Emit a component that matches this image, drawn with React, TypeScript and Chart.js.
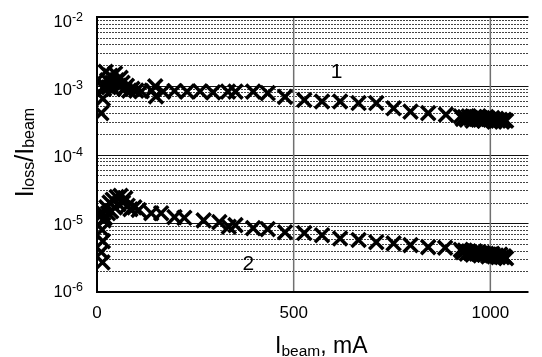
import React, { useEffect, useRef } from "react";
import { Chart, registerables } from "chart.js";

Chart.register(...registerables);

// ---- data ----
const series1X = [
  11, 15, 18, 20, 22, 26, 30, 34, 38, 42, 46, 50, 55, 60, 65, 70, 76, 82, 90, 100,
  113, 139, 148, 150, 168, 197, 229, 262, 295, 333, 352, 397, 434, 478, 527, 572,
  618, 665, 710, 754, 797, 842, 887,
  925, 930, 935, 940, 945, 950, 955, 960, 965, 970, 975, 980, 985, 990, 995, 1000,
  1005, 1010, 1015, 1020, 1025, 1030, 1035, 1040,
];
const series1Y = [
  4.0e-4, 6.5e-4, 9.0e-4, 1.0e-3, 1.6e-3, 1.2e-3, 9.5e-4, 1.4e-3, 1.1e-3, 9.0e-4,
  1.5e-3, 1.2e-3, 1.0e-3, 1.3e-3, 1.1e-3, 9.0e-4, 1.0e-3, 8.5e-4, 9.0e-4, 8.5e-4,
  8.3e-4, 8.5e-4, 9.8e-4, 7.0e-4, 8.2e-4, 8.4e-4, 8.2e-4, 8.3e-4, 8.0e-4, 8.2e-4,
  8.2e-4, 8.2e-4, 7.8e-4, 6.9e-4, 6.2e-4, 5.9e-4, 5.9e-4, 5.6e-4, 5.6e-4, 4.7e-4,
  4.2e-4, 4.0e-4, 3.8e-4,
  3.6e-4, 3.3e-4, 3.5e-4, 3.2e-4, 3.6e-4, 3.4e-4, 3.1e-4, 3.5e-4, 3.3e-4, 3.6e-4,
  3.2e-4, 3.4e-4, 3.1e-4, 3.5e-4, 3.3e-4, 3.2e-4, 3.4e-4, 3.0e-4, 3.3e-4, 3.1e-4,
  3.2e-4, 3.0e-4, 3.2e-4, 3.1e-4,
];
const series2X = [
  14, 11, 15, 13, 17, 16, 20, 24, 28, 32, 36, 40, 45, 50, 55, 60, 66, 72, 78, 85, 95,
  106, 138, 163, 197, 222, 271, 311, 335, 352, 397, 434, 478, 527, 572, 618, 665,
  710, 754, 797, 842, 885,
  925, 930, 935, 940, 945, 950, 955, 960, 965, 970, 975, 980, 985, 990, 995, 1000,
  1005, 1010, 1015, 1020, 1025, 1030, 1035, 1040,
];
const series2Y = [
  2.7e-6, 3.8e-6, 5.5e-6, 8.0e-6, 1.1e-5, 1.4e-5, 1.2e-5, 1.7e-5, 1.4e-5, 2.0e-5,
  1.5e-5, 2.2e-5, 1.7e-5, 2.4e-5, 1.9e-5, 2.5e-5, 2.0e-5, 2.3e-5, 1.8e-5, 1.6e-5,
  1.7e-5, 1.56e-5, 1.4e-5, 1.4e-5, 1.23e-5, 1.2e-5, 1.1e-5, 1.04e-5, 8.9e-6,
  9.4e-6, 8.5e-6, 8.2e-6, 7.4e-6, 7.2e-6, 6.7e-6, 6.0e-6, 5.7e-6, 5.3e-6, 5.1e-6,
  4.8e-6, 4.5e-6, 4.4e-6,
  4.1e-6, 3.8e-6, 4.0e-6, 3.6e-6, 3.9e-6, 3.7e-6, 3.5e-6, 3.9e-6, 3.6e-6, 3.8e-6,
  3.4e-6, 3.7e-6, 3.5e-6, 3.6e-6, 3.3e-6, 3.5e-6, 3.6e-6, 3.3e-6, 3.4e-6, 3.2e-6,
  3.5e-6, 3.2e-6, 3.3e-6, 3.1e-6,
];

const xTickValues = [0, 500, 1000];
const yTickExponents = [-2, -3, -4, -5, -6];
const xMin = 0;
const xMax = 1097;
const yMin = 1e-6;
const yMax = 1e-2;

const seriesLabels = [
  { text: "1", x: 609, y: 1.58e-3 },
  { text: "2", x: 385, y: 2.55e-6 },
];

const xTitle = [
  { t: "I", sub: false },
  { t: "beam", sub: true },
  { t: ", mA", sub: false },
];
const yTitle = [
  { t: "I", sub: false },
  { t: "loss", sub: true },
  { t: "/I", sub: false },
  { t: "beam", sub: true },
];

const FONT = "'Liberation Sans', Arial, sans-serif";

function drawRich(ctx: CanvasRenderingContext2D, segs: { t: string; sub: boolean }[], cx: number, base: number, mainPx: number, subPx: number, subDrop: number) {
  const widths = segs.map((s) => {
    ctx.font = `${s.sub ? subPx : mainPx}px ${FONT}`;
    return ctx.measureText(s.t).width;
  });
  const total = widths.reduce((a, b) => a + b, 0);
  let x = cx - total / 2;
  ctx.textAlign = "left";
  ctx.textBaseline = "alphabetic";
  segs.forEach((s, i) => {
    ctx.font = `${s.sub ? subPx : mainPx}px ${FONT}`;
    ctx.fillText(s.t, x, base + (s.sub ? subDrop : 0));
    x += widths[i];
  });
}

const decorPlugin = {
  id: "decor",
  beforeDatasetsDraw(chart: any) {
    const { ctx, chartArea: a, scales } = chart;
    const x = scales.x;
    const y = scales.y;
    ctx.save();
    ctx.fillStyle = "#fff";
    ctx.fillRect(a.left, a.top, a.right - a.left, a.bottom - a.top);
    // minor dotted grid
    ctx.strokeStyle = "#444";
    ctx.lineWidth = 1;
    ctx.setLineDash([2, 1]);
    for (let e = -6; e < -2; e++) {
      for (let m = 2; m <= 9; m++) {
        const py = Math.round(y.getPixelForValue(m * Math.pow(10, e))) + 0.5;
        ctx.beginPath();
        ctx.moveTo(a.left, py);
        ctx.lineTo(a.right, py);
        ctx.stroke();
      }
    }
    ctx.setLineDash([]);
    // major decade lines
    ctx.strokeStyle = "#111";
    for (let e = -5; e <= -3; e++) {
      const py = Math.round(y.getPixelForValue(Math.pow(10, e))) + 0.5;
      ctx.beginPath();
      ctx.moveTo(a.left, py);
      ctx.lineTo(a.right, py);
      ctx.stroke();
    }
    // vertical grid
    ctx.strokeStyle = "#707070";
    ctx.lineWidth = 1.5;
    xTickValues.slice(1).forEach((v) => {
      const px = x.getPixelForValue(v);
      ctx.beginPath();
      ctx.moveTo(px, a.top);
      ctx.lineTo(px, a.bottom);
      ctx.stroke();
    });
    // border
    ctx.strokeStyle = "#000";
    ctx.lineWidth = 2;
    ctx.beginPath();
    ctx.moveTo(a.right, a.top);
    ctx.lineTo(a.left, a.top);
    ctx.lineTo(a.left, a.bottom);
    ctx.lineTo(a.right, a.bottom);
    ctx.stroke();
    ctx.restore();
  },
  afterDraw(chart: any) {
    const { ctx, chartArea: a, scales } = chart;
    const x = scales.x;
    const y = scales.y;
    ctx.save();
    ctx.fillStyle = "#000";
    // y tick labels
    yTickExponents.forEach((e, i) => {
      const py = y.getPixelForValue(Math.pow(10, e));
      const base = py + 10 - 1.2 * i;
      const sup = String(e);
      ctx.font = `12.5px ${FONT}`;
      const supW = ctx.measureText(sup).width;
      const right = a.left - 14;
      ctx.textBaseline = "alphabetic";
      ctx.textAlign = "left";
      ctx.fillText(sup, right - supW, base - 6);
      ctx.font = `16.5px ${FONT}`;
      ctx.textAlign = "right";
      ctx.fillText("10", right - supW, base);
    });
    // x tick labels
    ctx.font = `17px ${FONT}`;
    ctx.textAlign = "center";
    ctx.textBaseline = "alphabetic";
    xTickValues.forEach((v) => {
      ctx.fillText(String(v), x.getPixelForValue(v), a.bottom + 26);
    });
    // x title
    drawRich(ctx, xTitle, (a.left + a.right) / 2 + 8.5, a.bottom + 61, 23, 15.5, 2.5);
    // y title
    ctx.save();
    ctx.translate(a.left - 64, (a.top + a.bottom) / 2 - 2);
    ctx.rotate(-Math.PI / 2);
    drawRich(ctx, yTitle, 0, 0, 25, 16, 1);
    ctx.restore();
    // series labels
    ctx.font = `21px ${FONT}`;
    ctx.textAlign = "center";
    ctx.textBaseline = "middle";
    seriesLabels.forEach((l) => {
      ctx.fillText(l.text, x.getPixelForValue(l.x), y.getPixelForValue(l.y));
    });
    ctx.restore();
  },
};

export default function App() {
  const ref = useRef<HTMLCanvasElement | null>(null);
  useEffect(() => {
    if (!ref.current) return;
    const mk = (xs: number[], ys: number[]) => xs.map((v, i) => ({ x: v, y: ys[i] }));
    const pointStyle = {
      pointStyle: "crossRot",
      pointRadius: 10,
      pointBorderWidth: 3.5,
      borderWidth: 3.5,
      borderColor: "#000",
      backgroundColor: "#000",
      showLine: false,
    };
    const chart = new Chart(ref.current, {
      type: "scatter",
      data: {
        datasets: [
          { label: "1", data: mk(series1X, series1Y), ...pointStyle } as any,
          { label: "2", data: mk(series2X, series2Y), ...pointStyle } as any,
        ],
      },
      options: {
        responsive: false,
        maintainAspectRatio: false,
        animation: false,
        devicePixelRatio: 1,
        layout: { padding: { left: 97, top: 17, right: 0, bottom: 65 } },
        plugins: { legend: { display: false }, tooltip: { enabled: false } },
        scales: {
          x: { type: "linear", min: xMin, max: xMax, display: false },
          y: { type: "logarithmic", min: yMin, max: yMax, display: false },
        },
      },
      plugins: [decorPlugin],
    });
    return () => chart.destroy();
  }, []);
  return (
    <div style={{ position: "fixed", left: 0, top: 0, width: 542, height: 357, background: "#fff" }}>
      <canvas ref={ref} width={542} height={357} style={{ display: "block" }} />
    </div>
  );
}
